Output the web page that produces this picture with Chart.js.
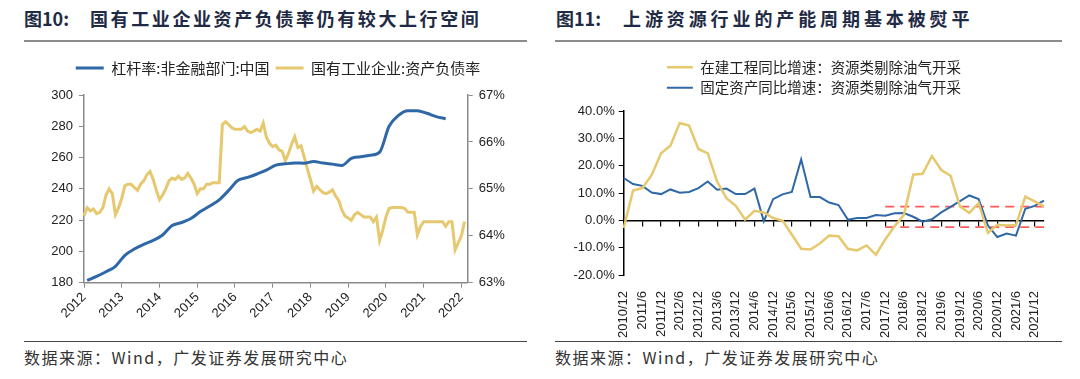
<!DOCTYPE html>
<html><head><meta charset="utf-8">
<script src="https://cdn.jsdelivr.net/npm/chart.js@4.4.0/dist/chart.umd.min.js"></script>
<style>
body{margin:0;width:1080px;height:379px;background:#fff;position:relative;overflow:hidden;font-family:"Noto Sans CJK SC",sans-serif;}
.title{position:absolute;top:5px;font-size:18px;font-weight:bold;color:#1f2b45;white-space:nowrap;line-height:26px;}
.rule{position:absolute;top:40px;height:2px;background:#8c8c8c;}
.brule{position:absolute;top:341px;height:1px;background:#444;}
.src{position:absolute;top:346px;font-size:16px;color:#333;line-height:22px;letter-spacing:1.5px;white-space:nowrap;}
canvas{position:absolute;top:48px;}
</style></head>
<body>
<div class="title" style="left:24px;">图10:</div>
<div class="title" style="left:90px;letter-spacing:2.6px;">国有工业企业资产负债率仍有较大上行空间</div>
<div class="rule" style="left:24px;width:503px;"></div>
<div class="title" style="left:556px;">图11:</div>
<div class="title" style="left:623px;letter-spacing:3.9px;">上游资源行业的产能周期基本被熨平</div>
<div class="rule" style="left:555px;width:507px;"></div>
<canvas id="c1" width="540" height="290" style="left:0px"></canvas>
<canvas id="c2" width="540" height="290" style="left:540px"></canvas>
<div class="brule" style="left:24px;width:503px;"></div>
<div class="brule" style="left:555px;width:507px;"></div>
<div class="src" style="left:24px;">数据来源：Wind，广发证券发展研究中心</div>
<div class="src" style="left:555px;">数据来源：Wind，广发证券发展研究中心</div>
<script>
// ---------- Left chart data ----------
const years = ['2012','2013','2014','2015','2016','2017','2018','2019','2020','2021','2022'];
const monthNums = ['01','02','03','04','05','06','07','08','09','10','11','12'];
const monthLabels = [];
years.forEach(y => monthNums.forEach(m => monthLabels.push(y + '-' + m)));
monthLabels.length = 123; // 2012-01 .. 2022-03

const leverageMonths = ['02','05','08','11'];
const leverageDates = [];
years.slice(0, 10).forEach(y => leverageMonths.forEach(m => leverageDates.push(y + '-' + m)));
leverageDates.length = 39; // 2012Q1 .. 2021Q3

// 杠杆率:非金融部门:中国 (%)
const leverage = [
  181.5, 184, 187, 190.5,
  197.5, 201.5, 204.5, 207,
  210.5, 216.5, 218.5, 221,
  225.5, 229, 233, 239,
  245.5, 247.3, 249.5, 252,
  255.2, 256, 256.5, 256.4,
  257.5, 256.5, 255.8, 255,
  259.5, 260.5, 261.5, 263.5,
  280, 287, 290, 290,
  288.3, 286.2, 284.8
];

// 国有工业企业:资产负债率 (%), monthly from 2012-01
const soeDebtRatio = [
  64.43, 64.60, 64.53, 64.57, 64.47, 64.50, 64.60, 64.87, 65.00, 64.90, 64.45, 64.60,
  64.80, 65.07, 65.10, 65.10, 65.03, 64.97, 65.10, 65.17, 65.30, 65.37, 65.20, 64.97,
  64.77, 64.87, 65.00, 65.17, 65.23, 65.20, 65.27, 65.20, 65.23, 65.33, 65.23, 65.10,
  64.90, 65.00, 65.00, 65.10, 65.10, 65.13, 65.13, 65.13, 66.37, 66.43, 66.37, 66.30,
  66.27, 66.27, 66.27, 66.33, 66.23, 66.20, 66.23, 66.27, 66.23, 66.40, 66.10, 65.97,
  65.90, 65.93, 65.83, 65.80, 65.60, 65.75, 65.95, 66.11, 65.88, 65.92, 65.68, 65.43,
  65.20, 64.95, 65.05, 64.98, 64.92, 64.90, 64.93, 64.98, 64.85, 64.75, 64.55, 64.42,
  64.38, 64.33, 64.45, 64.50, 64.45, 64.40, 64.40, 64.40, 64.30, 64.40, 63.90, 64.12,
  64.40, 64.58, 64.60, 64.60, 64.60, 64.60, 64.58, 64.50, 64.50, 64.50, 64.02, 64.20,
  64.30, 64.30, 64.30, 64.30, 64.30, 64.30, 64.30, 64.20, 64.30, 64.30, 63.70, 63.85,
  64.00, 64.30
];

// ---------- Right chart data ----------
const quarterLabels = ['2010/12'];
['2011','2012','2013','2014','2015','2016','2017','2018','2019','2020','2021'].forEach(y =>
  ['3','6','9','12'].forEach(q => quarterLabels.push(y + '/' + q)));
quarterLabels.push('2022/3');

// 在建工程同比增速：资源类剔除油气开采 (%)
const cipGrowth = [
  -2.8, 10.9, 11.8, 16.6, 24.5, 27.3, 35.6, 34.7, 26.1, 24.5,
  14.2, 8.1, 5.3, 0.25, 3.5, 2.9, 0.85, -0.1, -5.2, -10.4,
  -10.7, -8.5, -5.6, -5.8, -10.4, -11.0, -9.2, -12.6, -7.0, -2.2,
  2.0, 16.7, 17.0, 23.5, 18.4, 16.3, 5.1, 2.7, 6.3, -4.6,
  -1.6, -1.9, -1.7, 8.7, 6.9, 5.1
];
// 固定资产同比增速：资源类剔除油气开采 (%)
const faGrowth = [
  15.5, 13.3, 12.6, 10.2, 9.6, 11.3, 10.1, 10.4, 11.8, 14.2,
  11.2, 11.6, 9.6, 9.6, 11.6, -0.35, 7.75, 9.5, 10.4, 22.3,
  8.5, 8.5, 6.5, 5.6, 0.25, 0.85, 0.85, 1.95, 1.7, 2.55,
  2.7, 1.3, -0.5, 0.4, 2.9, 4.96, 7.0, 9.1, 7.8, -1.9,
  -6.1, -4.8, -5.6, 4.25, 5.3, 7.2
];
const bandRange = ['2017/12', '2022/3'];
const bandHigh = [5, 5];
const bandLow = [-2.5, -2.5];

// ---------- Helpers ----------
Chart.defaults.font.family = "'Liberation Sans', Arial, sans-serif";
Chart.defaults.color = '#222';
const legendGap = {
  id: 'legendGap',
  beforeInit(chart, args, opts) {
    const fit = chart.legend.fit;
    chart.legend.fit = function () { fit.call(this); this.height += opts.extra || 0; };
  },
  afterLayout(chart, args, opts) {
    const s = opts.shift || 0;
    if (s) { chart.legend.left += s; chart.legend.right += s; }
  }
};
const BLUE = '#2f68a6', YELLOW = '#e6c86f', RED = '#ff5b5b';

// ---------- Left chart ----------
new Chart(document.getElementById('c1'), {
  type: 'line',
  data: {
    labels: monthLabels,
    datasets: [
      {label: '杠杆率:非金融部门:中国', data: leverageDates.map((d, i) => ({x: d, y: leverage[i]})),
       borderColor: BLUE, backgroundColor: BLUE, borderWidth: 3, pointRadius: 0,
       cubicInterpolationMode: 'monotone', yAxisID: 'y'},
      {label: '国有工业企业:资产负债率', data: soeDebtRatio,
       borderColor: YELLOW, backgroundColor: YELLOW, borderWidth: 3, pointRadius: 0, yAxisID: 'y1'}
    ]
  },
  plugins: [legendGap],
  options: {
    responsive: false, animation: false, devicePixelRatio: 1,
    layout: {padding: {left: 16, right: 0, top: 6.5, bottom: 0}},
    plugins: {
      legendGap: {extra: 9.5},
      tooltip: {enabled: false},
      legend: {labels: {usePointStyle: true, pointStyle: 'line', pointStyleWidth: 28, padding: 6,
               font: {family: "'Noto Sans CJK SC', sans-serif", size: 15}, color: '#222'}}
    },
    scales: {
      x: {type: 'category', offset: false,
          grid: {drawOnChartArea: false, drawTicks: true, tickLength: 5,
                 tickColor: c => c.index % 12 === 0 ? '#8a8a8a' : 'rgba(0,0,0,0)'},
          border: {color: '#8a8a8a', width: 1.5},
          ticks: {autoSkip: false, minRotation: 45, maxRotation: 45, padding: 2,
                  font: {size: 13}, color: '#222',
                  callback: (v, i) => i % 12 === 0 ? monthLabels[i].slice(0, 4) : ''},
          afterFit: s => { s.height = 55.3; }},
      y: {position: 'left', min: 180, max: 300,
          grid: {drawOnChartArea: false, tickLength: 5, tickColor: '#8a8a8a'},
          border: {color: '#8a8a8a', width: 1.5},
          ticks: {stepSize: 20, font: {size: 13}, color: '#222', padding: 6},
          afterFit: s => { s.width = 68; }},
      y1: {position: 'right', min: 63, max: 67,
          grid: {drawOnChartArea: false, tickLength: 5, tickColor: '#8a8a8a'},
          border: {color: '#8a8a8a', width: 1.5},
          ticks: {stepSize: 1, font: {size: 13}, color: '#222', padding: 6, callback: v => v + '%'},
          afterFit: s => { s.width = 72.3; }}
    }
  }
});

// ---------- Right chart ----------
new Chart(document.getElementById('c2'), {
  type: 'line',
  data: {
    labels: quarterLabels,
    datasets: [
      {label: '在建工程同比增速：资源类剔除油气开采', data: cipGrowth,
       borderColor: YELLOW, backgroundColor: YELLOW, borderWidth: 2.5, pointRadius: 0},
      {label: '固定资产同比增速：资源类剔除油气开采', data: faGrowth,
       borderColor: BLUE, backgroundColor: BLUE, borderWidth: 2, pointRadius: 0},
      {label: 'high', data: bandRange.map((d, i) => ({x: d, y: bandHigh[i]})),
       borderColor: RED, borderWidth: 1.8, borderDash: [9, 6], pointRadius: 0},
      {label: 'low', data: bandRange.map((d, i) => ({x: d, y: bandLow[i]})),
       borderColor: RED, borderWidth: 1.8, borderDash: [9, 6], pointRadius: 0}
    ]
  },
  plugins: [legendGap],
  options: {
    responsive: false, animation: false, devicePixelRatio: 1,
    layout: {padding: {left: 0, right: 36, top: 6, bottom: 0}},
    plugins: {
      legendGap: {extra: 6, shift: 22},
      tooltip: {enabled: false},
      legend: {labels: {usePointStyle: true, pointStyle: 'line', pointStyleWidth: 26, padding: 6,
               font: {family: "'Noto Sans CJK SC', sans-serif", size: 14.5}, color: '#222',
               filter: item => item.datasetIndex < 2}}
    },
    scales: {
      x: {type: 'category', offset: false,
          grid: {display: false}, border: {display: false},
          ticks: {autoSkip: false, minRotation: 90, maxRotation: 90, padding: 8,
                  font: {size: 13}, color: '#222',
                  callback: (v, i) => i % 2 === 0 ? quarterLabels[i] : ''},
          afterFit: s => { s.height = 63; }},
      x2: {axis: 'x', type: 'category', offset: false, position: {y: 0},
           grid: {drawOnChartArea: false, drawTicks: true, tickLength: 5, lineWidth: 1.2,
                  tickColor: c => c.index % 2 === 0 ? '#000' : 'rgba(0,0,0,0)'},
           border: {color: '#000', width: 1.5},
           ticks: {display: false, autoSkip: false}},
      y: {position: 'left', min: -20, max: 40,
          grid: {drawOnChartArea: false, tickLength: 5, tickColor: '#000'},
          border: {color: '#000', width: 1.5},
          ticks: {stepSize: 10, font: {size: 13}, color: '#222', padding: 4,
                  callback: v => v.toFixed(1) + '%'},
          afterFit: s => { s.width = 83.7; }}
    }
  }
});
</script>
</body></html>
